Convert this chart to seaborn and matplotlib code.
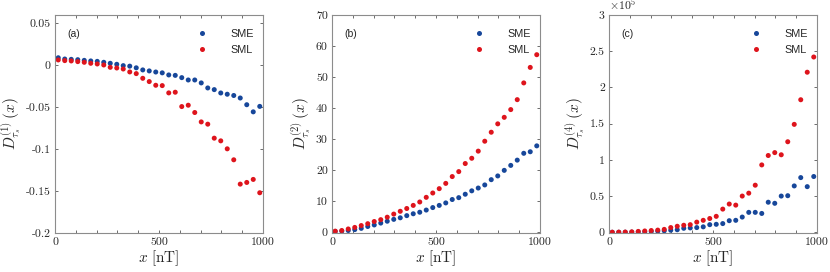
import numpy as np
import pandas as pd
import matplotlib
matplotlib.use("Agg")
import matplotlib.pyplot as plt
import seaborn as sns
from matplotlib.ticker import FuncFormatter, MultipleLocator, FixedLocator

# ---------------- data ----------------
x_nT = [15.6, 46.9, 78.1, 109.4, 140.6, 171.9, 203.1, 234.4, 265.6, 296.9,
        328.1, 359.4, 390.6, 421.9, 453.1, 484.4, 515.6, 546.9, 578.1, 609.4,
        640.6, 671.9, 703.1, 734.4, 765.6, 796.9, 828.1, 859.4, 890.6, 921.9,
        953.1, 984.4]

d1_sme = [0.009, 0.0075, 0.0071, 0.0067, 0.0059, 0.0052, 0.0047, 0.0036, 0.0024, 0.0012,
          -0.0004, -0.001, -0.003, -0.0055, -0.0067, -0.008, -0.009, -0.0115, -0.012, -0.0147,
          -0.0175, -0.0175, -0.021, -0.027, -0.029, -0.033, -0.0345, -0.036, -0.039, -0.047,
          -0.0555, -0.049]
d1_sml = [0.0064, 0.0056, 0.0052, 0.0044, 0.0036, 0.0024, 0.0016, 0.0004, -0.0024, -0.0032,
          -0.0044, -0.0079, -0.0099, -0.0155, -0.0194, -0.0238, -0.0242, -0.0329, -0.0321, -0.0492,
          -0.0476, -0.0563, -0.0675, -0.0702, -0.0869, -0.0901, -0.0996, -0.1127, -0.1417, -0.1397,
          -0.1361, -0.152]

d2_sme = [0.2, 0.3, 0.5, 0.8, 1.2, 1.8, 2.3, 2.9, 3.5, 4.1,
          4.6, 5.3, 5.9, 6.4, 7.1, 7.9, 8.6, 9.4, 10.5, 11.1,
          12.2, 13.3, 14.2, 15.2, 16.9, 18.1, 19.9, 21.5, 23.2, 25.4,
          25.9, 27.8]
d2_sml = [0.3, 0.5, 1.0, 1.5, 2.1, 2.7, 3.4, 4.0, 4.8, 5.8,
          6.7, 7.6, 8.6, 9.7, 11.2, 12.6, 14.0, 15.7, 17.9, 19.5,
          22.1, 23.8, 26.1, 29.3, 32.2, 34.9, 37.0, 39.5, 42.7, 48.1,
          53.1, 57.2]

# panel (c) values in units of 1e5
d4_sme = [0.0002, 0.0005, 0.001, 0.002, 0.004, 0.006, 0.01, 0.015, 0.02, 0.028,
          0.035, 0.055, 0.06, 0.065, 0.075, 0.105, 0.11, 0.12, 0.16, 0.165,
          0.21, 0.275, 0.275, 0.26, 0.415, 0.40, 0.50, 0.505, 0.64, 0.755,
          0.63, 0.77]
d4_sml = [0.001, 0.002, 0.003, 0.006, 0.012, 0.018, 0.024, 0.03, 0.04, 0.065,
          0.083, 0.097, 0.105, 0.14, 0.165, 0.19, 0.22, 0.32, 0.39, 0.375,
          0.50, 0.54, 0.65, 0.93, 1.06, 1.10, 1.07, 1.25, 1.49, 1.83,
          2.21, 2.42]
D4_SCALE = 1e5

series_names = ["SME", "SML"]
panel_labels = ["(a)", "(b)", "(c)"]
ylabels = [r"$D^{(1)}_{\tau_s}\,(x)$", r"$D^{(2)}_{\tau_s}\,(x)$", r"$D^{(4)}_{\tau_s}\,(x)$"]

# ---------------- style ----------------
sns.set_style("ticks")
plt.rcParams["mathtext.fontset"] = "cm"
plt.rcParams["font.family"] = ["DejaVu Sans"]

BLUE = "#17479a"
RED = "#de141c"
palette = {"SME": BLUE, "SML": RED}

fig = plt.figure(figsize=(8.30, 2.72), dpi=100)
lefts = [55 / 830, 332 / 830, 609 / 830]
W = 208 / 830
B = (272 - 233) / 272
H = 218 / 272

def make_df(a, b, scale=1.0):
    return pd.DataFrame({
        "x": list(x_nT) * 2,
        "y": [v * scale for v in a] + [v * scale for v in b],
        "series": ["SME"] * len(a) + ["SML"] * len(b),
    })

dfs = [make_df(d1_sme, d1_sml), make_df(d2_sme, d2_sml), make_df(d4_sme, d4_sml, D4_SCALE)]
ylims = [(-0.2, 0.06), (-0.3, 70), (-0.01 * D4_SCALE, 3 * D4_SCALE)]
yticks = [np.arange(-0.2, 0.051, 0.05), np.arange(0, 71, 10), np.arange(0, 3.01, 0.5) * D4_SCALE]

def fmt_a(v, pos):
    s = f"{v:.2f}".rstrip("0").rstrip(".")
    if s in ("-0", "0.0"):
        s = "0"
    return s

def fmt_b(v, pos):
    return f"{v:.0f}"

def fmt_c(v, pos):
    s = f"{v / D4_SCALE:.1f}".rstrip("0").rstrip(".")
    return s

fmts = [fmt_a, fmt_b, fmt_c]

SPINE = "#8c8c8c"
for i in range(3):
    ax = fig.add_axes([lefts[i], B, W, H])
    sns.scatterplot(data=dfs[i], x="x", y="y", hue="series", palette=palette,
                    hue_order=series_names, s=13, linewidth=0, ax=ax, legend=True)
    ax.set_xlim(0, 1000)
    ax.set_ylim(*ylims[i])
    ax.xaxis.set_major_locator(MultipleLocator(100))
    ax.xaxis.set_major_formatter(FuncFormatter(lambda v, p: f"{v:.0f}" if abs(v % 500) < 1e-6 else ""))
    ax.yaxis.set_major_locator(FixedLocator(yticks[i]))
    ax.yaxis.set_major_formatter(FuncFormatter(fmts[i]))
    ax.tick_params(direction="in", length=2.5, width=0.6, color="#555555",
                   top=True, right=True, labelsize=8.5, pad=3)
    for lab in ax.get_xticklabels() + ax.get_yticklabels():
        lab.set_fontfamily("cmr10")
    for sp in ax.spines.values():
        sp.set_visible(True)
        sp.set_color(SPINE)
        sp.set_linewidth(0.8)
    ax.set_xlabel(r"$x\ [\mathrm{nT}]$", fontsize=11, labelpad=1)
    ax.set_ylabel(ylabels[i], fontsize=11, labelpad=2)
    ax.text(0.058, 0.915, panel_labels[i], transform=ax.transAxes, fontsize=7.5,
            family="Liberation Sans", va="center", ha="left")
    leg = ax.legend(loc="upper right", frameon=False, handletextpad=1.7,
                    borderaxespad=0.3, markerscale=1.0, bbox_to_anchor=(0.995, 0.97),
                    labelspacing=0.55, prop={"family": "Liberation Sans", "size": 7.8})
    if i == 2:
        ax.text(0.0, 1.005, r"$\times10^5$", transform=ax.transAxes, fontsize=8.5,
                va="bottom", ha="left")

fig.savefig("out.png", dpi=100)
